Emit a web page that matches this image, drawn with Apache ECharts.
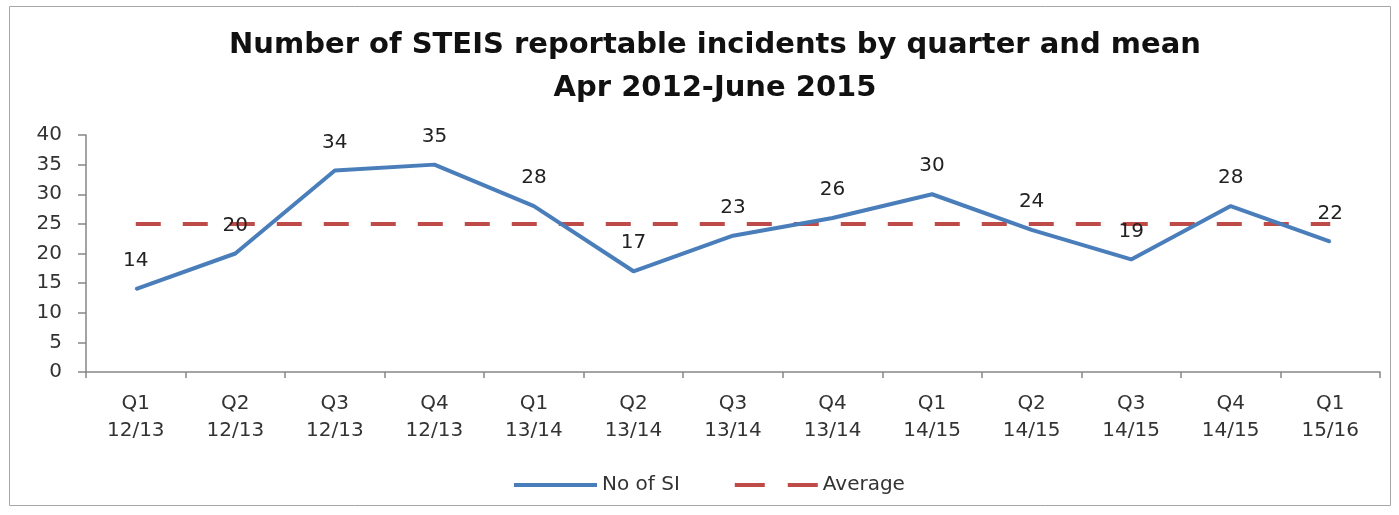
<!DOCTYPE html>
<html>
<head>
<meta charset="utf-8">
<script src="https://cdn.jsdelivr.net/npm/echarts@6/dist/echarts.min.js"></script>
<style>
  html, body { margin: 0; padding: 0; background: #fff; }
  #chart { width: 1399px; height: 515px; }
</style>
</head>
<body>
<div id="chart"></div>
<script>
// Quarterly counts of STEIS reportable incidents, April 2012 to June 2015
const quarters = ['Q1\n12/13', 'Q2\n12/13', 'Q3\n12/13', 'Q4\n12/13', 'Q1\n13/14', 'Q2\n13/14', 'Q3\n13/14',
                  'Q4\n13/14', 'Q1\n14/15', 'Q2\n14/15', 'Q3\n14/15', 'Q4\n14/15', 'Q1\n15/16'];
const incidents = [14, 20, 34, 35, 28, 17, 23, 26, 30, 24, 19, 28, 22];
const average = [25, 25, 25, 25, 25, 25, 25, 25, 25, 25, 25, 25, 25];
const yTicks = { min: 0, max: 40, interval: 5 };

const FONT = 'DejaVu Sans';
const axisGrey = '#868686';
const blue = '#4a7ebb';
const red = '#be4b48';

const chart = echarts.init(document.getElementById('chart'), null, { renderer: 'canvas' });
chart.setOption({
  backgroundColor: '#fff',
  animation: false,
  graphic: [{
    type: 'rect',
    shape: { x: 9.5, y: 6.5, width: 1381, height: 499 },
    style: { fill: 'none', stroke: '#a6a6a6', lineWidth: 1 },
    silent: true
  }],
  title: {
    text: 'Number of STEIS reportable incidents by quarter and mean\nApr 2012-June 2015',
    left: 710,
    top: 19,
    textAlign: 'center',
    textStyle: { fontFamily: FONT, fontWeight: 'bold', fontSize: 29, lineHeight: 43, color: '#111' }
  },
  legend: {
    left: 507,
    top: 470,
    itemWidth: 83,
    itemHeight: 14,
    itemGap: 53,
    itemStyle: { opacity: 0 },
    textStyle: { fontFamily: FONT, fontSize: 20, color: '#333' },
    data: [
      { name: 'No of SI', lineStyle: { width: 4, color: blue } },
      { name: 'Average', lineStyle: { width: 4, color: red, type: [30, 23] } }
    ]
  },
  grid: { left: 86, right: 19, top: 135, bottom: 143, containLabel: false },
  xAxis: {
    type: 'category',
    data: quarters,
    boundaryGap: true,
    axisLine: { lineStyle: { color: axisGrey, width: 1.5 } },
    axisTick: { show: true, length: 6, alignWithLabel: false, lineStyle: { color: axisGrey, width: 1.5 } },
    axisLabel: { fontFamily: FONT, fontSize: 20, lineHeight: 27, color: '#333', margin: 18, interval: 0 }
  },
  yAxis: {
    type: 'value',
    min: yTicks.min,
    max: yTicks.max,
    interval: yTicks.interval,
    axisLine: { show: true, lineStyle: { color: axisGrey, width: 1.5 } },
    axisTick: { show: true, length: 8, lineStyle: { color: axisGrey, width: 1.5 } },
    axisLabel: { fontFamily: FONT, fontSize: 20, color: '#333', margin: 24 },
    splitLine: { show: false }
  },
  series: [
    {
      name: 'No of SI',
      type: 'line',
      data: incidents,
      symbol: 'circle',
      symbolSize: 2,
      showSymbol: true,
      itemStyle: { color: blue },
      lineStyle: { color: blue, width: 4 },
      label: {
        show: true,
        position: 'top',
        distance: 17,
        fontFamily: FONT,
        fontSize: 20,
        color: '#222'
      },
      z: 3
    },
    {
      name: 'Average',
      type: 'line',
      data: average,
      symbol: 'none',
      itemStyle: { color: red },
      lineStyle: { color: red, width: 4, type: [25, 22] },
      label: { show: false },
      z: 2
    }
  ]
});
</script>
</body>
</html>
